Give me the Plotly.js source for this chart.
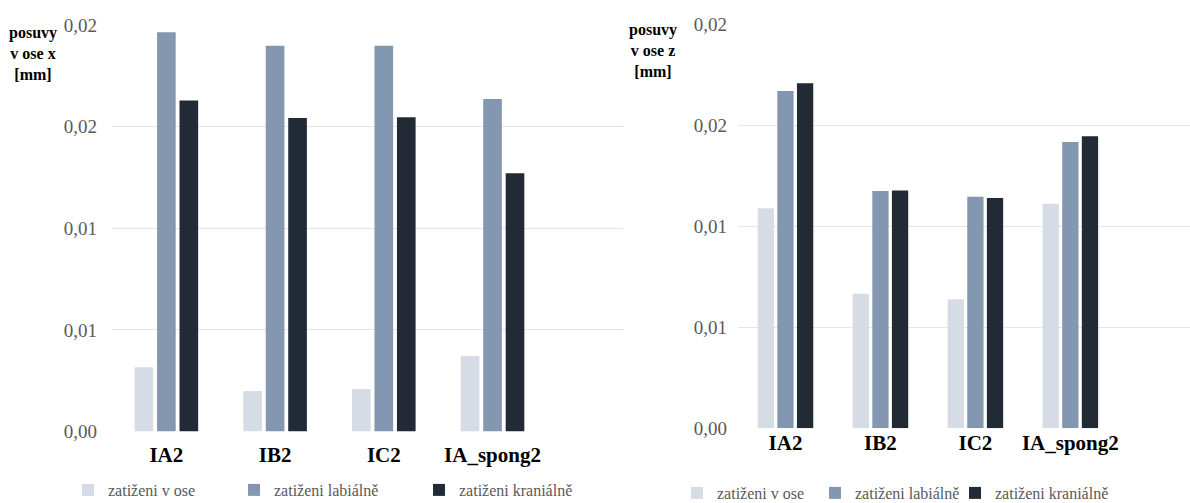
<!DOCTYPE html>
<html>
<head>
<meta charset="utf-8">
<script src="https://cdn.plot.ly/plotly-3.0.1.min.js"></script>
<style>html,body{margin:0;padding:0;background:#fff;}#chart{width:1190px;height:503px;}</style>
</head>
<body>
<div id="chart"></div>
<script>
const categories = ['IA2', 'IB2', 'IC2', 'IA_spong2'];
const seriesNames = ['zatiženi v ose', 'zatiženi labiálně', 'zatiženi kraniálně'];
// left chart: posuvy v ose x [mm]
const xAxial   = [0.00316, 0.00199, 0.00209, 0.00371];
const xLabial  = [0.01964, 0.01898, 0.01898, 0.01636];
const xCranial = [0.01628, 0.01542, 0.01546, 0.01270];
// right chart: posuvy v ose z [mm]
const zAxial   = [0.01090, 0.00667, 0.00639, 0.01113];
const zLabial  = [0.01671, 0.01176, 0.01148, 0.01419];
const zCranial = [0.01710, 0.01179, 0.01141, 0.01447];
const tickVals = [0, 0.005, 0.01, 0.015, 0.02];
const tickText = ['0,00', '0,01', '0,01', '0,02', '0,02'];
const colors = ['#d6dce5', '#8497b0', '#222a35'];

const FONT = 'Liberation Serif';

// one legend per entry so each can sit where the reference puts it
const legendIds = ['legend', 'legend2', 'legend3', 'legend4', 'legend5', 'legend6'];
const legendMarkerX = [92, 258, 443, 701, 839, 979];
const legendY = [490, 490, 490, 493, 493, 493];

function mk(y, i, xa, ya, leg) {
  return {type: 'bar', x: categories, y: y, name: seriesNames[i], xaxis: xa, yaxis: ya,
          legend: leg, marker: {color: colors[i], line: {width: 0}}, hoverinfo: 'x+y'};
}
const data = [
  mk(xAxial, 0, 'x', 'y', legendIds[0]), mk(xLabial, 1, 'x', 'y', legendIds[1]), mk(xCranial, 2, 'x', 'y', legendIds[2]),
  mk(zAxial, 0, 'x2', 'y2', legendIds[3]), mk(zLabial, 1, 'x2', 'y2', legendIds[4]), mk(zCranial, 2, 'x2', 'y2', legendIds[5])
];

const yCommon = {range: [0, 0.02], tickvals: tickVals, ticktext: tickText, showgrid: true,
  gridcolor: '#e4e4e4', gridwidth: 1, zeroline: false, showline: false, ticks: '',
  tickfont: {family: FONT, size: 19, color: '#595959'}, fixedrange: true};
const xCommon = {type: 'category', showgrid: false, zeroline: false, showline: false, ticks: '',
  fixedrange: true};

const layout = {
  width: 1190, height: 503,
  margin: {l: 0, r: 0, t: 0, b: 0, autoexpand: false},
  paper_bgcolor: '#fff', plot_bgcolor: 'rgba(0,0,0,0)',
  barmode: 'group', bargap: 0.38, bargroupgap: 0.17,
  font: {family: FONT, color: '#595959'},
  xaxis: Object.assign({}, xCommon, {domain: [112/1190, 623/1190], range: [-0.5, 4.2], anchor: 'y',
    ticklabelstandoff: 8, tickfont: {family: FONT, size: 21, color: '#000', weight: 'bold'}}),
  yaxis: Object.assign({}, yCommon, {domain: [(503-431.5)/503, (503-25)/503], anchor: 'x', ticklabelstandoff: 14}),
  xaxis2: Object.assign({}, xCommon, {domain: [738/1190, 1], range: [-0.5, 4.26], anchor: 'y2',
    ticklabelstandoff: 0, tickfont: {family: FONT, size: 21, color: '#000', weight: 'bold'}}),
  yaxis2: Object.assign({}, yCommon, {domain: [(503-428.3)/503, (503-24.7)/503], anchor: 'x2', ticklabelstandoff: 10}),
  annotations: [
    {text: '<b>posuvy<br>v ose x<br>[mm]</b>', xref: 'paper', yref: 'paper', x: 33/1190, y: (503-53)/503,
     xanchor: 'center', yanchor: 'middle', showarrow: false, align: 'center',
     font: {family: FONT, size: 16, color: '#000'}},
    {text: '<b>posuvy<br>v ose z<br>[mm]</b>', xref: 'paper', yref: 'paper', x: 653/1190, y: (503-51)/503,
     xanchor: 'center', yanchor: 'middle', showarrow: false, align: 'center',
     font: {family: FONT, size: 16, color: '#000'}}
  ],
  showlegend: true
};
legendIds.forEach(function (id, k) {
  layout[id] = {orientation: 'h', x: (legendMarkerX[k] - 24) / 1190, xanchor: 'left',
    y: (503 - legendY[k]) / 503, yanchor: 'middle',
    font: {family: FONT, size: 16, color: '#595959'}, bgcolor: 'rgba(0,0,0,0)'};
});

Plotly.newPlot('chart', data, layout, {displayModeBar: false, staticPlot: true});
</script>
</body>
</html>
